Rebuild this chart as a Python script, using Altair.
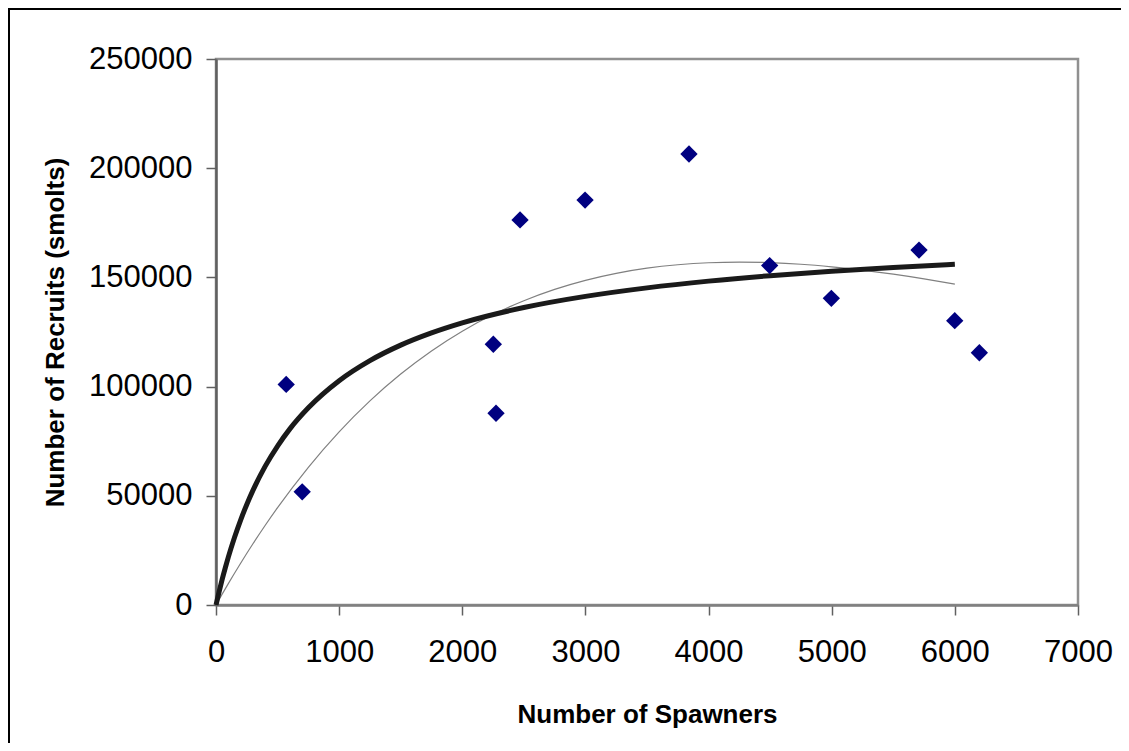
import altair as alt
import pandas as pd

# Observed spawner-recruit pairs
spawners = [570, 700, 2252, 2274, 2469, 2997, 3841, 4496, 4997, 5709, 5999, 6199]
recruits = [101000, 51800, 119400, 87800, 176300, 185400, 206500, 155400, 140400, 162500, 130200, 115500]

# Thick curve (Beverton-Holt style)
bh_s = [0, 25, 50, 75, 100, 150, 200, 250, 300, 400, 500, 600, 750, 1000, 1250, 1500,
        1750, 2000, 2500, 3000, 3500, 4000, 4500, 5000, 5500, 6000]
bh_r = [0, 6040, 11700, 16950, 21900, 30900, 38900, 46050, 52500, 63600, 72800, 80650,
        90300, 102700, 111900, 119000, 124600, 129200, 136200, 141300, 145200, 148300,
        150800, 152800, 154500, 156000]

# Thin curve (Ricker style)
rk_s = [0, 50, 100, 200, 300, 400, 500, 750, 1000, 1250, 1500, 1750, 2000, 2250, 2500,
        2750, 3000, 3250, 3500, 3750, 4000, 4250, 4500, 4750, 5000, 5250, 5500, 5750, 6000]
rk_r = [0, 4960, 9800, 19140, 28040, 36520, 44590, 63070, 79300, 93470, 105750, 116340,
        125380, 132990, 139340, 144530, 148670, 151870, 154220, 155790, 156710, 157000,
        156750, 156030, 154860, 153340, 151480, 149320, 146900]

x_ticks = [0, 1000, 2000, 3000, 4000, 5000, 6000, 7000]
y_ticks = [0, 50000, 100000, 150000, 200000, 250000]

FONT = "Liberation Sans"

pts = pd.DataFrame({"S": spawners, "R": recruits})
bh = pd.DataFrame({"S": bh_s, "R": bh_r})
rk = pd.DataFrame({"S": rk_s, "R": rk_r})

xscale = alt.Scale(domain=[0, 7000], nice=False, zero=False)
yscale = alt.Scale(domain=[0, 250000], nice=False, zero=False)

xaxis = alt.Axis(
    values=x_ticks, format="d", grid=False,
    title="Number of Spawners",
    labelFont=FONT, labelFontSize=31, labelColor="#000000", labelPadding=22,
    tickColor="#606060", tickWidth=1.5, tickSize=10,
    domainColor="#808080", domainWidth=2.5,
    titleFont=FONT, titleFontSize=26, titleFontWeight="bold", titleColor="#000000",
    titleBaseline="alphabetic", titleX=431, titleY=117, titleAnchor="middle",
    titleAlign="center", labelFlush=False,
)
yaxis = alt.Axis(
    values=y_ticks, format="d", grid=False,
    title="Number of Recruits (smolts)",
    labelFont=FONT, labelFontSize=31, labelColor="#000000", labelPadding=14,
    tickColor="#606060", tickWidth=1.5, tickSize=10,
    domainColor="#606060", domainWidth=2.5,
    titleFont=FONT, titleFontSize=26, titleFontWeight="bold", titleColor="#000000",
    titleBaseline="alphabetic", titleAngle=-90, titleX=-153, titleY=273,
    titleAlign="center", titleAnchor="middle", labelFlush=False,
)

frame_src = pd.DataFrame({"k": [1]})
frame_left = alt.Chart(frame_src).mark_rule(color="#000000", strokeWidth=2).encode(
    x=alt.value(-207), y=alt.value(-50), y2=alt.value(800)
)
frame_top = alt.Chart(frame_src).mark_rule(color="#000000", strokeWidth=2).encode(
    x=alt.value(-208), x2=alt.value(1000), y=alt.value(-50)
)

thin = alt.Chart(rk).mark_line(color="#808080", strokeWidth=1.2, interpolate="monotone").encode(
    x=alt.X("S:Q", scale=xscale, axis=xaxis),
    y=alt.Y("R:Q", scale=yscale, axis=yaxis),
    order="S:Q",
)

thick = alt.Chart(bh).mark_line(color="#1a1a1a", strokeWidth=5, interpolate="monotone").encode(
    x=alt.X("S:Q", scale=xscale),
    y=alt.Y("R:Q", scale=yscale),
    order="S:Q",
)

points = alt.Chart(pts).mark_point(
    shape="diamond", filled=True, color="#000080", size=300, opacity=1
).encode(
    x=alt.X("S:Q", scale=xscale),
    y=alt.Y("R:Q", scale=yscale),
)

chart = alt.layer(frame_left, frame_top, thin, thick, points).properties(
    width=862, height=546,
    padding={"left": 208, "top": 51, "right": 43, "bottom": 138},
    autosize=alt.AutoSizeParams(type="none"),
    background="white",
).configure_view(
    stroke="#909090", strokeWidth=2.5
)

chart.save("out.html", embed_options={"renderer": "svg", "actions": False})
